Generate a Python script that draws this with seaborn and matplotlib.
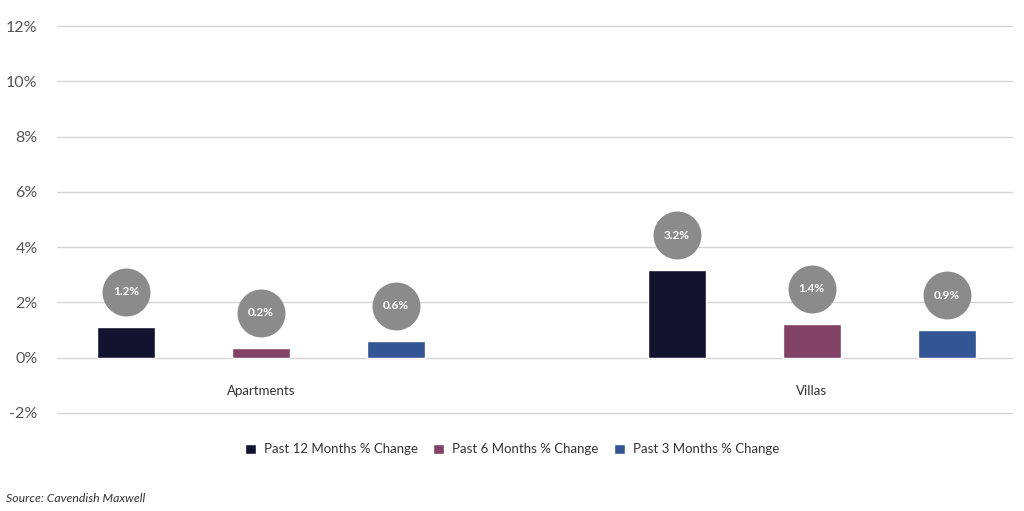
import pandas as pd
import matplotlib
matplotlib.use("Agg")
import matplotlib.pyplot as plt
from matplotlib.transforms import offset_copy
import seaborn as sns

categories = ["Apartments", "Villas"]
periods = ["Past 12 Months % Change", "Past 6 Months % Change", "Past 3 Months % Change"]
apartments = [1.12, 0.35, 0.61]
villas = [3.16, 1.23, 0.99]
labels_apartments = ["1.2%", "0.2%", "0.6%"]
labels_villas = ["3.2%", "1.4%", "0.9%"]
yticks = [-2, 0, 2, 4, 6, 8, 10, 12]

colors = ["#13132f", "#824266", "#335594"]

rows = []
for cat, vals in zip(categories, [apartments, villas]):
    for p, v in zip(periods, vals):
        rows.append({"type": cat, "period": p, "value": v})
df = pd.DataFrame(rows)

sns.set_theme(style="white")
plt.rcParams["font.family"] = ["Lato", "DejaVu Sans"]

fig = plt.figure(figsize=(10.24, 5.11), dpi=100)
ax = fig.add_axes([0.0557, 0.192, 0.9323, 0.757])

sns.barplot(data=df, x="type", y="value", hue="period", palette=colors,
            width=0.735, gap=0.57, ax=ax, saturation=1)

handles, labels = ax.get_legend_handles_labels()
ax.legend_.remove()

ax.set_ylim(-2, 12)
ax.set_xlim(-0.37, 1.363)
ax.set_yticks(yticks)
ax.set_yticklabels([f"{t}%" for t in yticks], color="#555555", fontsize=11.5)
ax.tick_params(axis="y", length=0, pad=14)
ax.set_xticks([])
ax.set_xlabel("")
ax.set_ylabel("")
ax.grid(axis="y", color="#d4d4d4", linewidth=1)
for gl in ax.get_ygridlines():
    gl.set_clip_on(False)
ax.set_axisbelow(True)
for s in ax.spines.values():
    s.set_visible(False)

# category names sit inside the plot, just under zero
for i, cat in enumerate(categories):
    ax.text(i, -1.2, cat, ha="center", va="center", fontsize=9.5, color="#333333")

# grey circle value labels above each bar
label_lookup = {}
for cat, labs in zip(categories, [labels_apartments, labels_villas]):
    for p, lab in zip(periods, labs):
        label_lookup[(cat, p)] = lab

trans = offset_copy(ax.transData, fig=fig, x=0, y=35, units="dots")
bars = [b for b in ax.patches if b.get_height() != 0]
i = 0
for p in periods:
    for cat in categories:
        b = bars[i]
        i += 1
        cx = b.get_x() + b.get_width() / 2
        h = b.get_height()
        ax.scatter([cx], [h], s=1190, color="#8c8b8c", transform=trans,
                   zorder=4, linewidths=0, clip_on=False)
        ax.text(cx, h, label_lookup[(cat, p)], transform=trans, ha="center",
                va="center", fontsize=8.5, color="white", fontweight="bold", zorder=5)

fig.legend(handles, labels, loc="center", bbox_to_anchor=(0.5, 0.121), ncol=3,
           frameon=False, fontsize=9.5, handlelength=0.8, handleheight=0.8,
           columnspacing=1.2, handletextpad=0.6, labelcolor="#333333")

fig.text(0.006, 0.025, "Source: Cavendish Maxwell", fontsize=8.8, style="italic",
         color="#333333", ha="left", va="center")

fig.savefig("out.png", dpi=100)
